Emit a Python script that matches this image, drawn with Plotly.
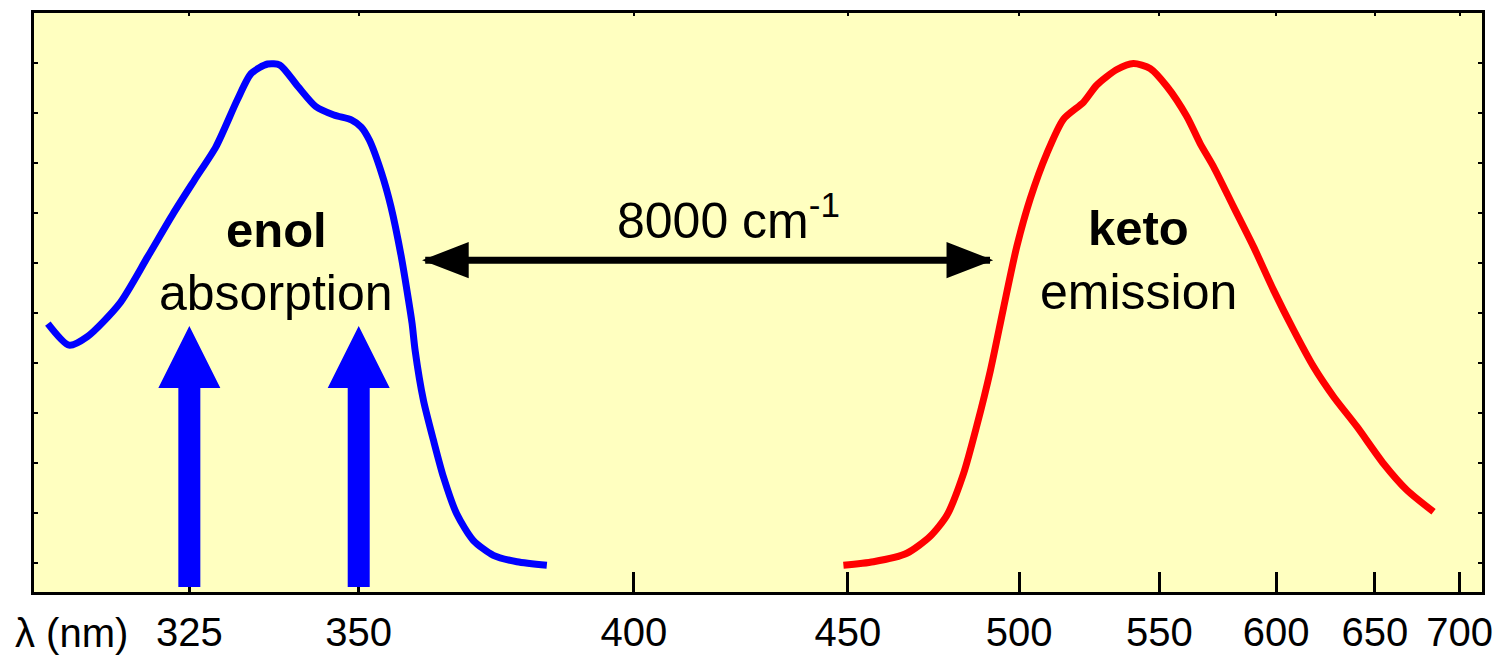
import plotly.graph_objects as go

# ---------------- data ----------------
abs_wl = [306.7, 309.3, 311.6, 315.7, 319.4, 322.8, 325.7, 328.7, 331.7, 333.7,
          336.1, 337.9, 340.6, 343.3, 346.1, 348.9, 350.4, 351.7, 353.7, 355.2, 356.9,
          358.1, 358.7, 359.2, 360.6, 362.3, 364.0, 366.3, 369.2, 372.8, 377.1, 382.7]
abs_int = [0.479, 0.436, 0.453, 0.519, 0.613, 0.699, 0.766, 0.833, 0.926, 0.979,
           0.998, 0.996, 0.953, 0.913, 0.896, 0.886, 0.872, 0.846, 0.779, 0.713, 0.613,
           0.526, 0.479, 0.426, 0.326, 0.246, 0.173, 0.099, 0.046, 0.016, 0.003, -0.004]

em_wl = [448.8, 456.8, 466.0, 472.7, 477.6, 482.5, 486.6, 490.8, 494.9, 499.2,
         503.6, 509.1, 514.8, 521.8, 526.5, 533.8, 540.0, 546.4, 553.0, 561.0,
         566.5, 572.1, 580.7, 589.6, 598.8, 608.3, 618.0, 628.1, 640.3, 654.8, 668.1, 683.8]
em_int = [-0.004, 0.003, 0.020, 0.054, 0.096, 0.178, 0.275, 0.385, 0.509, 0.633,
          0.729, 0.819, 0.888, 0.922, 0.956, 0.987, 0.999, 0.989, 0.953, 0.893,
          0.839, 0.793, 0.713, 0.633, 0.546, 0.466, 0.393, 0.333, 0.273, 0.199, 0.146, 0.103]

tick_wl = [325, 350, 400, 450, 500, 550, 600, 650, 700]
tick_labels = ["325", "350", "400", "450", "500", "550", "600", "650", "700"]

excitation_wl = [325, 350]          # blue excitation arrows
shift_arrow_wl = [360.9, 490.7]     # ends of the Stokes-shift arrow
shift_label = "8000 cm<sup>-1</sup>"

x_range_wn = [32785, 13995]         # cm^-1, high wavenumber on the left
y_range = [-0.0574, 1.1]

FONT = "Liberation Sans, Arial, sans-serif"


def wn(wl):
    return 1e7 / wl


fig = go.Figure()

fig.add_trace(go.Scatter(x=[wn(w) for w in abs_wl], y=abs_int, mode="lines",
                         line=dict(color="#0000FF", width=7, shape="spline", smoothing=0.7),
                         hoverinfo="skip", showlegend=False))
fig.add_trace(go.Scatter(x=[wn(w) for w in em_wl], y=em_int, mode="lines",
                         line=dict(color="#FF0000", width=7, shape="spline", smoothing=0.7),
                         hoverinfo="skip", showlegend=False))
# invisible trace on the top (mirror) axis so its small ticks are drawn
fig.add_trace(go.Scatter(x=[wn(tick_wl[0])], y=[0], xaxis="x2", mode="markers",
                         marker=dict(opacity=0), hoverinfo="skip", showlegend=False))

shapes = []
# blue excitation arrows (pixel geometry anchored at the wavelength position)
for w in excitation_wl:
    shapes.append(dict(type="path", xref="x", yref="paper",
                       xsizemode="pixel", ysizemode="pixel",
                       xanchor=wn(w), yanchor=0,
                       path="M -11,5 L 11,5 L 11,204 L 31,204 L 0,266 L -31,204 L -11,204 Z",
                       fillcolor="#0000FF", line=dict(width=0), layer="above"))

# black double-headed arrow
y_arrow = 0.606
x_left, x_right = wn(shift_arrow_wl[0]), wn(shift_arrow_wl[1])
shapes.append(dict(type="line", xref="x", yref="y", x0=x_left, x1=x_right,
                   y0=y_arrow, y1=y_arrow, line=dict(color="black", width=7)))
shapes.append(dict(type="path", xref="x", yref="y", xsizemode="pixel", ysizemode="pixel",
                   xanchor=x_left, yanchor=y_arrow,
                   path="M 1,0 L 42,16 L 42,-16 Z", fillcolor="black",
                   line=dict(color="black", width=3)))
shapes.append(dict(type="path", xref="x", yref="y", xsizemode="pixel", ysizemode="pixel",
                   xanchor=x_right, yanchor=y_arrow,
                   path="M -1,0 L -42,16 L -42,-16 Z", fillcolor="black",
                   line=dict(color="black", width=3)))

annotations = [
    dict(x=29644, y=0.666, xref="x", yref="y", text="<b>enol</b>", showarrow=False,
         font=dict(family=FONT, size=49, color="black"), xanchor="center", yanchor="middle"),
    dict(x=29650, y=0.540, xref="x", yref="y", text="absorption", showarrow=False,
         font=dict(family=FONT, size=50, color="black"), xanchor="center", yanchor="middle"),
    dict(x=18450, y=0.670, xref="x", yref="y", text="<b>keto</b>", showarrow=False,
         font=dict(family=FONT, size=49, color="black"), xanchor="center", yanchor="middle"),
    dict(x=18455, y=0.542, xref="x", yref="y", text="emission", showarrow=False,
         font=dict(family=FONT, size=50, color="black"), xanchor="center", yanchor="middle"),
    dict(x=23777, y=0.692, xref="x", yref="y", text=shift_label, showarrow=False,
         font=dict(family=FONT, size=50, color="black"), xanchor="center", yanchor="middle"),
    dict(x=-0.0145, y=-0.071, xref="paper", yref="paper", text="λ (nm)", showarrow=False,
         font=dict(family=FONT, size=40, color="black"), xanchor="left", yanchor="middle"),
]

fig.update_layout(
    width=1499, height=655,
    margin=dict(l=34, r=17, t=13, b=63, pad=0),
    paper_bgcolor="white", plot_bgcolor="#FFFFC0",
    showlegend=False,
    shapes=shapes, annotations=annotations,
    xaxis=dict(range=x_range_wn, tickmode="array", automargin=False,
               tickvals=[wn(w) for w in tick_wl], ticktext=tick_labels,
               ticks="inside", ticklen=20, tickwidth=3, tickcolor="black",
               ticklabelstandoff=3,
               showline=True, linewidth=3, linecolor="black", mirror=True,
               showgrid=False, zeroline=False,
               tickfont=dict(family=FONT, size=40, color="black")),
    xaxis2=dict(range=x_range_wn, overlaying="x", anchor="y", side="top",
                tickmode="array", tickvals=[wn(w) for w in tick_wl], automargin=False,
                ticks="inside", ticklen=3, tickwidth=2, tickcolor="black",
                showticklabels=False, showline=False, showgrid=False, zeroline=False),
    yaxis=dict(range=y_range, tickmode="linear", tick0=0, dtick=0.1, automargin=False,
               ticks="inside", ticklen=4, tickwidth=2, tickcolor="black",
               showticklabels=False, showline=True, linewidth=3, linecolor="black",
               mirror="ticks", showgrid=False, zeroline=False),
)

fig.write_html("out.html")
